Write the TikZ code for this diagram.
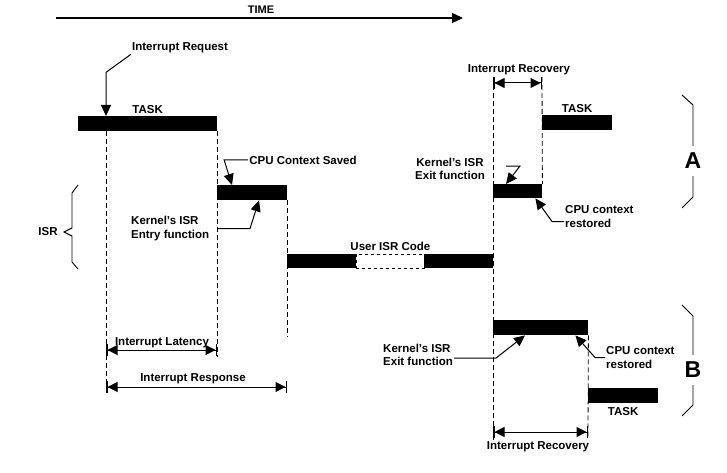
\documentclass[tikz,border=0pt]{standalone}
\usepackage{fontspec}
\setmainfont{Liberation Sans}
\usetikzlibrary{arrows.meta,positioning}
\newcommand{\lblfont}{\fontsize{11.5}{13.5}\selectfont\bfseries}
\newcommand{\bigfont}{\fontsize{23}{25}\selectfont\bfseries}
\tikzset{
  bar/.style={fill=black, inner sep=0pt, minimum height=15pt, anchor=north west},
  gapbox/.style={draw=black, dashed, line width=0.8pt, inner sep=0pt, minimum height=14pt, anchor=north west},
  guide/.style={line width=0.8pt, dash pattern=on 5pt off 3pt},
  lead/.style={-{Triangle[length=11pt,width=10pt]}, line width=1pt},
  span/.style={{Bar[width=12pt,line width=1.5pt]Triangle[length=10pt,width=10pt]}-{Triangle[length=10pt,width=10pt]Bar[width=12pt,line width=1.5pt]}, line width=1pt},
  timeline/.style={-{Triangle[length=11pt,width=10pt]}, line width=1.3pt},
  lbl/.style={font=\lblfont, inner sep=1pt},
  brace/.style={line width=0.9pt},
}

\begin{document}
\begin{tikzpicture}[x=1pt,y=-1pt]
  \useasboundingbox (0,0) rectangle (727,473);
  % instants
  \coordinate (t0) at (106,0);
  \coordinate (t1) at (217,0);
  \coordinate (t2) at (287,0);
  \coordinate (t3) at (493,0);
  \coordinate (t4) at (542,0);
  \coordinate (t5) at (588,0);
  \coordinate (lat) at (0,350);
  \coordinate (rsp) at (0,387);
  \coordinate (rcvA) at (0,83);
  \coordinate (rcvB) at (0,432);
  % time axis
  \coordinate (tl) at (56,18);
  \coordinate (tr) at (463,18);
  \draw[timeline] (tl) -- (tr);
  \node[font=\fontsize{11}{12}\selectfont\bfseries, inner sep=1pt] (time) at (261,10) {TIME};
  % bars
  \node[bar, minimum width=139pt] (task1) at (78,116) {};
  \node[bar, minimum width=70pt] (save) at (217,185) {};
  \node[bar, minimum width=69pt, minimum height=14pt] (user1) at (287,254) {};
  \node[gapbox, minimum width=68pt] (gap) at (356,254) {};
  \node[bar, minimum width=69pt, minimum height=14pt] (user2) at (424,254) {};
  \node[bar, minimum width=49pt, minimum height=14pt] (exitA) at (493,184) {};
  \node[bar, minimum width=70pt] (taskA) at (542,115) {};
  \node[bar, minimum width=95pt] (exitB) at (493,320) {};
  \node[bar, minimum width=70pt] (taskB) at (588,388) {};
  % labels
  \node[lbl, above=1pt of task1] (task1lbl) {TASK};
  \node[lbl, above=1pt of taskA] (taskAlbl) {TASK};
  \node[lbl, below=3pt of taskB] (taskBlbl) {TASK};
  \node[lbl, above=2pt of gap] (userlbl) {User ISR Code};
  \node[lbl] (irq) at (180,48) {Interrupt Request};
  \node[lbl] (saved) at (303,160) {CPU Context Saved};
  \node[lbl, align=left, anchor=west] (entry) at (130,228.5) {Kernel's ISR\\Entry function};
  \node[lbl, align=center] (exitAlbl) at (450,169) {Kernel's ISR\\Exit function};
  \node[lbl, align=left, anchor=west] (rstA) at (564,216.5) {CPU context\\restored};
  \node[lbl, align=left, anchor=west] (exitBlbl) at (382,355) {Kernel's ISR\\Exit function};
  \node[lbl, align=left, anchor=west] (rstB) at (605,357.5) {CPU context\\restored};
  \node[lbl] (isr) at (48,232) {ISR};
  \node[font=\bigfont, inner sep=7pt] (labA) at (693,161) {A};
  \node[font=\bigfont, inner sep=7pt] (labB) at (693,370) {B};
  \node[lbl] (latlbl) at (162,343) {Interrupt Latency};
  \node[lbl] (rsplbl) at (193,379) {Interrupt Response};
  \node[lbl] (rcvAlbl) at (519,70) {Interrupt Recovery};
  \node[lbl] (rcvBlbl) at (538,447) {Interrupt Recovery};
  % dashed guides
  \draw[guide] (task1.south -| t0) -- ([yshift=-6pt]t0 |- rsp);
  \draw[guide] (task1.south -| t1) -- ([yshift=-7pt]t1 |- lat);
  \draw[guide] (save.south -| t2) -- ([yshift=50pt]t2 |- rsp);
  \draw[guide] ([yshift=6pt]t3 |- rcvA) -- ([yshift=-8pt]t3 |- rcvB);
  \draw[guide] ([yshift=6pt]t4 |- rcvA) -- (exitA.north east);
  \draw[guide] (exitB.south east) -- ([yshift=-5pt]t5 |- rcvB);
  % spans
  \draw[span] (t0 |- lat) -- (t1 |- lat);
  \draw[span] (t0 |- rsp) -- (t2 |- rsp);
  \draw[span] (t3 |- rcvA) -- (t4 |- rcvA);
  \draw[span] (t3 |- rcvB) -- (t5 |- rcvB);
  % leaders
  \draw[lead] (irq.south west) -- ([yshift=-18pt]t0 |- irq.south) -- (task1.north -| t0);
  \draw[lead] (saved.west) -- ++(-24,0) -- ([xshift=15pt]save.north west);
  \draw[lead] (entry.east -| t1) -- ++(33,0) -- ([xshift=42pt]save.south west);
  \draw[lead] ([shift={(13,-18)}]exitA.north west) -- ++(14,0) -- ([xshift=13pt]exitA.north west);
  \draw[lead] ([yshift=-5pt]rstA.west) -- ++(-12,0) -- ([xshift=-7pt]exitA.south east);
  \draw[lead] ([yshift=-3pt]exitBlbl.east) -- ++(42,0) -- ([xshift=32pt]exitB.south west);
  \draw[lead] (rstB.west) -- ++(-10,0) -- ([xshift=-13pt]exitB.south east);
  % braces
  \draw[brace] (78,185) -- (72,193) -- (72,228) -- (64,232) -- (72,236) -- (72,262) -- (78,269);
  \draw[brace] (682,95) -- (693,105) -- (labA.north);
  \draw[brace] (labA.south) -- (693,197) -- (682,208);
  \draw[brace] (682,305) -- (693,316) -- (labB.north);
  \draw[brace] (labB.south) -- (693,405) -- (682,416);
\end{tikzpicture}
\end{document}
